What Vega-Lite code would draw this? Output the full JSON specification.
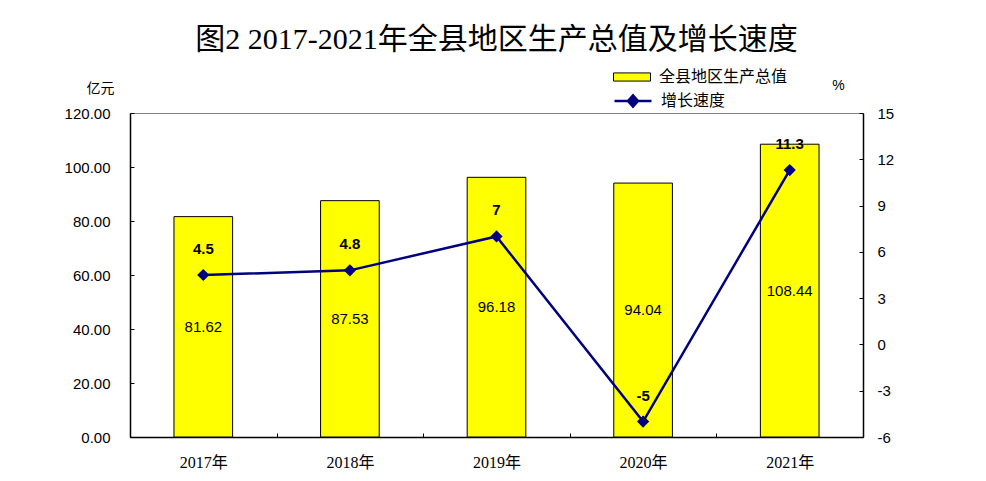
{
  "$schema": "https://vega.github.io/schema/vega-lite/v6.json",
  "width": 733,
  "height": 324,
  "autosize": {"type": "none"},
  "padding": {"left": 130, "top": 113, "right": 123, "bottom": 44},
  "background": "white",
  "title": {
    "text": "图2 2017-2021年全县地区生产总值及增长速度",
    "font": "Liberation Serif, Noto Sans CJK SC",
    "fontSize": 30,
    "fontWeight": "normal",
    "color": "black",
    "anchor": "middle",
    "frame": "group",
    "offset": 3
  },
  "data": {
    "values": [
      {"year": "2017年", "gdp": 81.62, "growth": 4.5},
      {"year": "2018年", "gdp": 87.53, "growth": 4.8},
      {"year": "2019年", "gdp": 96.18, "growth": 7},
      {"year": "2020年", "gdp": 94.04, "growth": -5},
      {"year": "2021年", "gdp": 108.44, "growth": 11.3}
    ]
  },
  "encoding": {
    "x": {
      "field": "year",
      "type": "ordinal",
      "scale": {"type": "band", "paddingInner": 0, "paddingOuter": 0},
      "axis": {
        "title": null,
        "labelAngle": 0,
        "labelFont": "Liberation Serif, Noto Sans CJK SC",
        "labelFontSize": 16,
        "labelColor": "black",
        "domainColor": "black",
        "tickColor": "black",
        "tickBand": "extent",
        "tickSize": -4,
        "labelPadding": 21
      }
    }
  },
  "layer": [
    {
      "mark": {"type": "bar", "width": {"band": 0.4}, "stroke": "black", "strokeWidth": 1},
      "encoding": {
        "y": {
          "field": "gdp",
          "type": "quantitative",
          "scale": {"domain": [0, 120]},
          "axis": {
            "title": "亿元",
            "titleAngle": 0,
            "titleX": -30,
            "titleY": -25,
            "titleAlign": "center",
            "titleBaseline": "middle",
            "titleFont": "Noto Sans CJK SC",
            "titleFontSize": 14,
            "titleFontWeight": "normal",
            "titleColor": "black",
            "values": [0, 20, 40, 60, 80, 100, 120],
            "format": ".2f",
            "grid": false,
            "labelFont": "Liberation Sans",
            "labelFontSize": 15,
            "labelColor": "black",
            "domainColor": "black",
            "tickColor": "black",
            "tickSize": -4,
            "labelPadding": 24
          }
        },
        "fill": {
          "datum": "全县地区生产总值",
          "scale": {"range": ["#FFFF00"]},
          "legend": {
            "title": null,
            "orient": "none",
            "legendX": 483,
            "legendY": -55,
            "symbolType": "M-1,-0.22H1V0.22H-1Z",
            "symbolSize": 1369,
            "symbolStrokeColor": "black",
            "symbolStrokeWidth": 1,
            "labelFont": "Noto Sans CJK SC",
            "labelFontSize": 16,
            "labelColor": "black",
            "labelOffset": 8
          }
        }
      }
    },
    {
      "layer": [
        {
          "mark": {"type": "line", "strokeWidth": 2.5},
          "encoding": {
            "stroke": {
              "datum": "增长速度",
              "scale": {"range": ["#000080"]},
              "legend": {
                "title": null,
                "orient": "none",
                "legendX": 483,
                "legendY": -32,
                "symbolType": "M-1,0H1M-0.27,0L0,-0.3L0.27,0L0,0.3Z",
                "symbolSize": 1369,
                "symbolFillColor": "#000080",
                "symbolStrokeWidth": 2.5,
                "labelFont": "Noto Sans CJK SC",
                "labelFontSize": 16,
                "labelColor": "black",
                "labelOffset": 8
              }
            }
          }
        },
        {
          "mark": {"type": "point", "shape": "diamond", "size": 150, "filled": true, "color": "#000080", "opacity": 1}
        },
        {
          "mark": {"type": "text", "dy": -26, "fontWeight": "bold", "font": "Liberation Sans", "fontSize": 15, "color": "black"},
          "encoding": {"text": {"field": "growth", "type": "nominal"}}
        }
      ],
      "encoding": {
        "y": {
          "field": "growth",
          "type": "quantitative",
          "scale": {"domain": [-6, 15]},
          "axis": {
            "orient": "right",
            "title": "%",
            "titleAngle": 0,
            "titleX": -25,
            "titleY": -28,
            "titleAlign": "center",
            "titleBaseline": "middle",
            "titleFont": "Liberation Sans",
            "titleFontSize": 14,
            "titleFontWeight": "normal",
            "titleColor": "black",
            "values": [-6, -3, 0, 3, 6, 9, 12, 15],
            "labelExpr": "'' + datum.value",
            "grid": false,
            "labelFont": "Liberation Sans",
            "labelFontSize": 15,
            "labelColor": "black",
            "domainColor": "black",
            "tickColor": "black",
            "tickSize": -4,
            "labelPadding": 18
          }
        }
      }
    },
    {
      "mark": {"type": "text", "font": "Liberation Sans", "fontSize": 15, "color": "black"},
      "encoding": {
        "y": {"field": "gdp", "type": "quantitative", "scale": {"domain": [0, 240]}, "axis": null},
        "text": {"field": "gdp", "type": "quantitative", "format": ".2f"}
      }
    }
  ],
  "resolve": {"scale": {"y": "independent"}},
  "config": {
    "view": {"stroke": "#808080"},
    "axis": {"domainWidth": 1.5}
  }
}
